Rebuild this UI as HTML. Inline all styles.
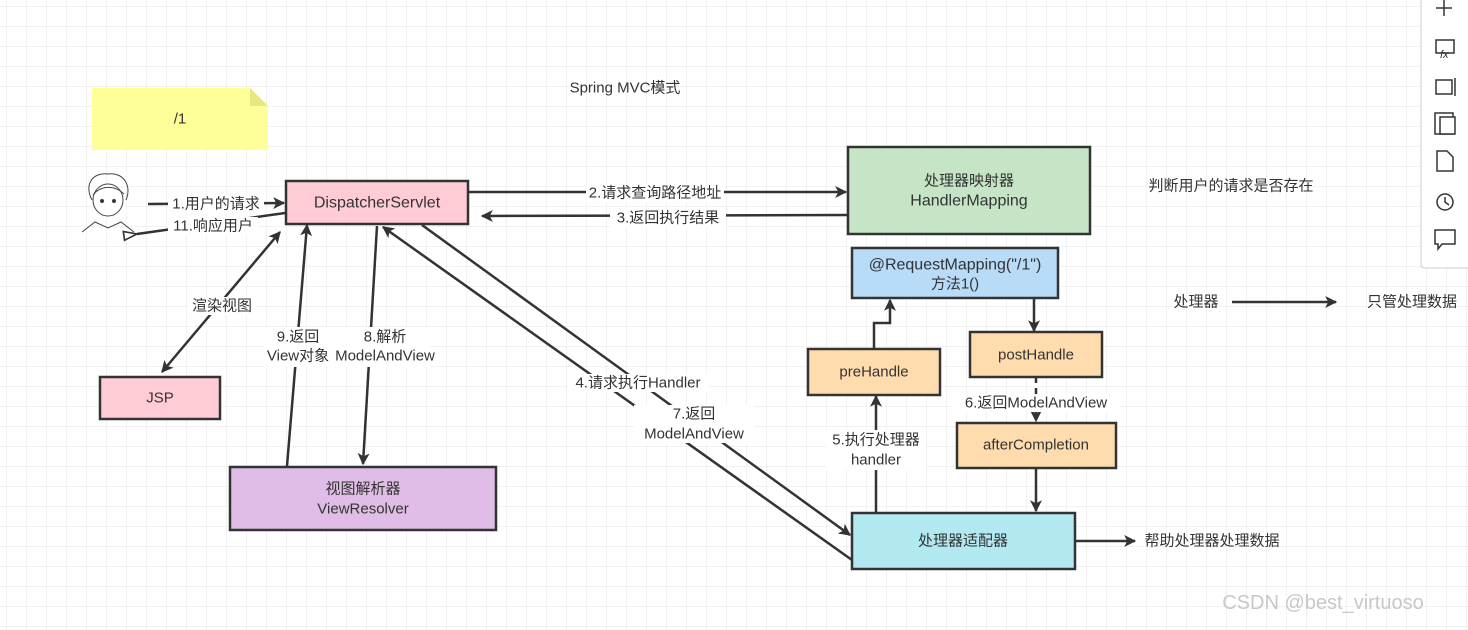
<!DOCTYPE html>
<html><head><meta charset="utf-8"><style>
html,body{margin:0;padding:0;background:#fff;}
svg{display:block;font-family:"Liberation Sans","Noto Sans CJK SC",sans-serif;}
</style></head><body>
<svg width="1468" height="630" viewBox="0 0 1468 630" xmlns="http://www.w3.org/2000/svg">
<defs>
<pattern id="g" width="20" height="20" patternUnits="userSpaceOnUse" x="6" y="6">
<path d="M20 0H0V20" fill="none" stroke="#e6e6e6" stroke-width="1"/>
</pattern>
<marker id="a" viewBox="0 0 10 10" refX="9" refY="5" markerWidth="14" markerHeight="12" orient="auto-start-reverse" markerUnits="userSpaceOnUse">
<path d="M0 0L10 5L0 10L2.5 5z" fill="#333"/></marker>
<marker id="ao" viewBox="0 0 14 10" refX="1" refY="5" markerWidth="16" markerHeight="11" orient="auto" markerUnits="userSpaceOnUse">
<path d="M13 1L1 5L13 9z" fill="#fff" stroke="#333" stroke-width="1.5"/></marker>
</defs>
<rect width="1468" height="630" fill="#fff"/>
<rect width="1468" height="630" fill="url(#g)"/>
<g font-size="15" fill="#333" text-anchor="middle" dominant-baseline="central">
<path d="M92 88H250L268 106V150H92Z" fill="#ffff99"/>
<path d="M250 88V106H268Z" fill="#e8e880"/>
<text x="180" y="119">/1</text>
<text x="625" y="88">Spring MVC模式</text>
<g stroke="#444" stroke-width="1" fill="none">
<path d="M92 200C84 185 92 172 108 174C124 172 132 186 126 200"/>
<ellipse cx="108" cy="200" rx="15" ry="16" fill="#fff"/>
<path d="M93 195C100 186 114 184 124 194"/>
<circle cx="102" cy="201" r="1.6" fill="#333"/><circle cx="114" cy="201" r="1.6" fill="#333"/>
<path d="M82 232L95 222L108 228L121 222L134 232"/>
</g>
<g stroke="#333" stroke-width="2.5">
<rect x="286" y="181" width="182" height="43" fill="#ffccd5"/>
<rect x="848" y="147" width="242" height="87" fill="#c6e5c6"/>
<rect x="852" y="248" width="206" height="50" fill="#b8dbf7"/>
<rect x="808" y="349" width="132" height="46" fill="#ffdcad"/>
<rect x="970" y="332" width="132" height="45" fill="#ffdcad"/>
<rect x="957" y="423" width="159" height="45" fill="#ffdcad"/>
<rect x="852" y="513" width="223" height="56" fill="#b2e9f1"/>
<rect x="100" y="377" width="120" height="42" fill="#ffccd5"/>
<rect x="230" y="467" width="266" height="63" fill="#e0bde6"/>
</g>
<text x="377" y="203" font-size="16">DispatcherServlet</text>
<text x="969" y="181">处理器映射器</text><text x="969" y="201" font-size="16">HandlerMapping</text>
<text x="955" y="265" font-size="16">@RequestMapping("/1")</text><text x="955" y="284">方法1()</text>
<text x="874" y="372">preHandle</text>
<text x="1036" y="355">postHandle</text>
<text x="1036" y="445">afterCompletion</text>
<text x="963" y="541">处理器适配器</text>
<text x="160" y="398">JSP</text>
<text x="363" y="489">视图解析器</text><text x="363" y="509">ViewResolver</text>
<g stroke="#333" stroke-width="2.5" fill="none" marker-end="url(#a)">
<line x1="148" y1="204" x2="284" y2="203"/>
<line x1="468" y1="192" x2="846" y2="192"/>
<line x1="848" y1="215" x2="482" y2="216"/>
<line x1="280" y1="232" x2="162" y2="372" marker-start="url(#a)"/>
<line x1="287" y1="466" x2="307" y2="225"/>
<line x1="377" y1="226" x2="363" y2="464"/>
<line x1="422" y1="225" x2="850" y2="535"/>
<line x1="852" y1="560" x2="383" y2="227"/>
<line x1="876" y1="513" x2="876" y2="396"/>
<polyline points="874,349 874,323 890,323 890,300"/>
<line x1="1034" y1="298" x2="1034" y2="331"/>
<line x1="1036" y1="377" x2="1036" y2="421" stroke-dasharray="6 5"/>
<line x1="1036" y1="468" x2="1036" y2="511"/>
<line x1="1075" y1="541" x2="1135" y2="541"/>
<line x1="1232" y1="302" x2="1336" y2="302"/>
</g>
<line x1="285" y1="213" x2="137" y2="234" stroke="#333" stroke-width="2.5" marker-end="url(#ao)"/>
<g>
<rect x="168" y="195" width="96" height="18" fill="#fff"/><text x="216" y="204">1.用户的请求</text>
<rect x="168" y="217" width="90" height="18" fill="#fff"/><text x="213" y="226">11.响应用户</text>
<rect x="586" y="184" width="138" height="18" fill="#fff"/><text x="655" y="193">2.请求查询路径地址</text>
<rect x="610" y="209" width="116" height="18" fill="#fff"/><text x="668" y="218">3.返回执行结果</text>
<rect x="188" y="297" width="68" height="18" fill="#fff"/><text x="222" y="306">渲染视图</text>
<rect x="264" y="327" width="106" height="40" fill="#fff"/>
<rect x="330" y="327" width="100" height="40" fill="#fff"/>
<text x="298" y="337">9.返回</text><text x="298" y="356">View对象</text>
<text x="385" y="337">8.解析</text><text x="385" y="356">ModelAndView</text>
<rect x="567" y="374" width="142" height="18" fill="#fff"/><text x="638" y="383">4.请求执行Handler</text>
<rect x="634" y="405" width="120" height="38" fill="#fff"/><text x="694" y="414">7.返回</text><text x="694" y="434">ModelAndView</text>
<rect x="826" y="430" width="100" height="40" fill="#fff"/><text x="876" y="440">5.执行处理器</text><text x="876" y="460">handler</text>
<rect x="952" y="394" width="168" height="18" fill="#fff"/><text x="1036" y="403">6.返回ModelAndView</text>
<text x="1212" y="541">帮助处理器处理数据</text>
<text x="1196" y="302">处理器</text>
<text x="1412" y="302">只管处理数据</text>
<text x="1231" y="186">判断用户的请求是否存在</text>
</g>
<text x="1323" y="603" font-size="20" fill="#c8c8c8">CSDN @best_virtuoso</text>
</g>
<rect x="1421" y="-2" width="50" height="270" rx="3" fill="#fff" stroke="#ccc"/>
<g stroke="#333" stroke-width="1.5" fill="none">
<path d="M1444 0V16M1436 8H1452"/>
<rect x="1436" y="40" width="18" height="13"/><text x="1440" y="58" font-size="11" fill="#333" stroke="none" font-style="italic">fx</text>
<rect x="1436" y="80" width="16" height="14"/><path d="M1455 78V96"/>
<rect x="1435" y="113" width="18" height="21"/><rect x="1440" y="117" width="15" height="17" fill="#fff"/>
<path d="M1437 151H1447L1453 157V171H1437Z"/>
<circle cx="1445" cy="202" r="8"/><path d="M1445 197V202L1449 205"/>
<path d="M1435 230H1455V244H1442L1438 249V244H1435Z"/>
</g>
</svg>
</body></html>
